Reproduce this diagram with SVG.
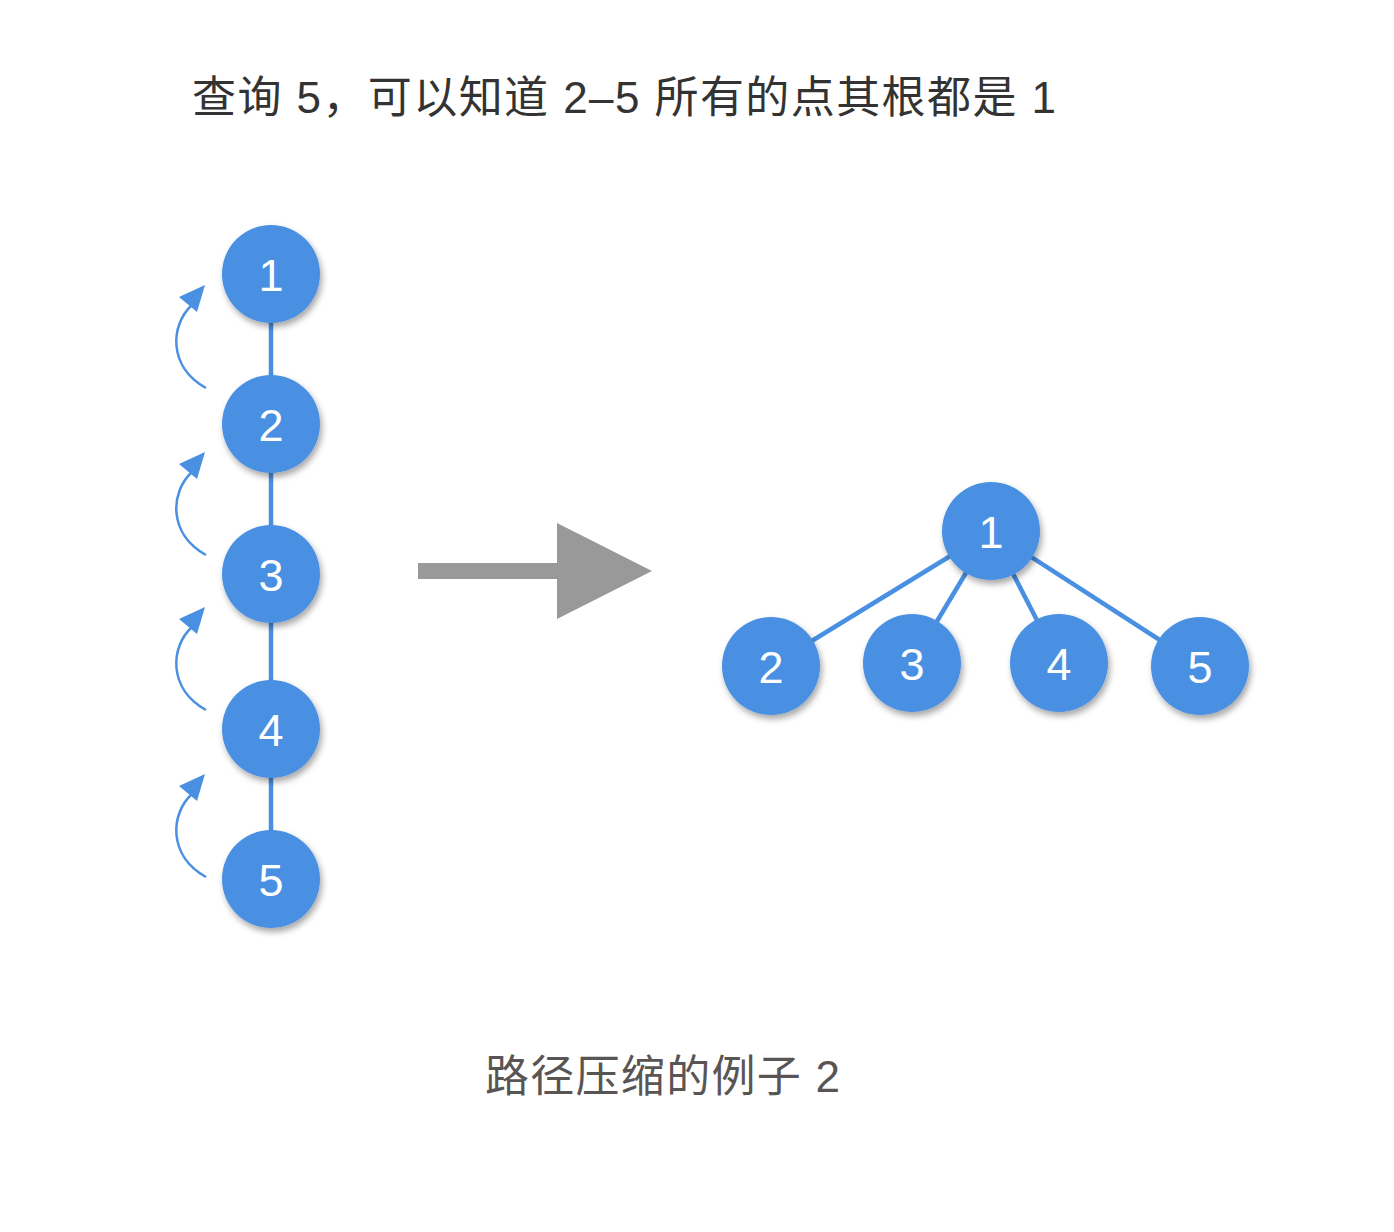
<svg xmlns="http://www.w3.org/2000/svg" xmlns:xlink="http://www.w3.org/1999/xlink" width="1394" height="1232" viewBox="0 0 1394 1232">
<style>
.node{fill:#4A90E2;filter:url(#sh);}
.lbl{font-family:"Liberation Sans","Noto Sans",sans-serif;font-size:45px;fill:#ffffff;text-anchor:middle;}
.edge{stroke:#4A90E2;stroke-width:4.5;fill:none;}
.curl{stroke:#4A90E2;stroke-width:2.5;fill:none;}
.head{fill:#4A90E2;}
.title{font-family:"Liberation Sans","Noto Sans CJK SC",sans-serif;font-size:44px;fill:#333333;}
.cap{font-family:"Liberation Sans","Noto Sans CJK SC",sans-serif;font-size:44px;fill:#5a5555;}
</style>
<defs>
<filter id="sh" x="-30%" y="-30%" width="160%" height="170%">
<feDropShadow dx="2" dy="4" stdDeviation="3" flood-color="#000" flood-opacity="0.35"/>
</filter>
<g id="curlArrow">
<path class="curl" d="M206,103 C168,82 170,40 192,20"/>
<polygon class="head" points="179,12 205,0 197,27"/>
</g>
</defs>
<rect width="1394" height="1232" fill="#ffffff"/>
<text class="title" x="192" y="113" textLength="864" lengthAdjust="spacing">查询 5，可以知道 2–5 所有的点其根都是 1</text>
<g id="connectors">
<line class="edge" x1="271" y1="274" x2="271" y2="879"/>
<line class="edge" x1="771" y1="666" x2="991" y2="531"/>
<line class="edge" x1="912" y1="663" x2="991" y2="531"/>
<line class="edge" x1="1059" y1="663" x2="991" y2="531"/>
<line class="edge" x1="1200" y1="666" x2="991" y2="531"/>
<use xlink:href="#curlArrow" transform="translate(0,285)"/>
<use xlink:href="#curlArrow" transform="translate(0,452)"/>
<use xlink:href="#curlArrow" transform="translate(0,607)"/>
<use xlink:href="#curlArrow" transform="translate(0,774)"/>
</g>
<g id="bigArrow">
<polygon fill="#999999" points="418,563 557,563 557,523 652,571 557,619 557,579 418,579"/>
</g>
<g id="L1"><circle class="node" cx="271" cy="274" r="49"/><text class="lbl" x="271" y="291">1</text></g>
<g id="L2"><circle class="node" cx="271" cy="424" r="49"/><text class="lbl" x="271" y="441">2</text></g>
<g id="L3"><circle class="node" cx="271" cy="574" r="49"/><text class="lbl" x="271" y="591">3</text></g>
<g id="L4"><circle class="node" cx="271" cy="729" r="49"/><text class="lbl" x="271" y="746">4</text></g>
<g id="L5"><circle class="node" cx="271" cy="879" r="49"/><text class="lbl" x="271" y="896">5</text></g>
<g id="R1"><circle class="node" cx="991" cy="531" r="49"/><text class="lbl" x="991" y="548">1</text></g>
<g id="R2"><circle class="node" cx="771" cy="666" r="49"/><text class="lbl" x="771" y="683">2</text></g>
<g id="R3"><circle class="node" cx="912" cy="663" r="49"/><text class="lbl" x="912" y="680">3</text></g>
<g id="R4"><circle class="node" cx="1059" cy="663" r="49"/><text class="lbl" x="1059" y="680">4</text></g>
<g id="R5"><circle class="node" cx="1200" cy="666" r="49"/><text class="lbl" x="1200" y="683">5</text></g>
<text class="cap" x="485" y="1092" textLength="355" lengthAdjust="spacing">路径压缩的例子 2</text>
</svg>
